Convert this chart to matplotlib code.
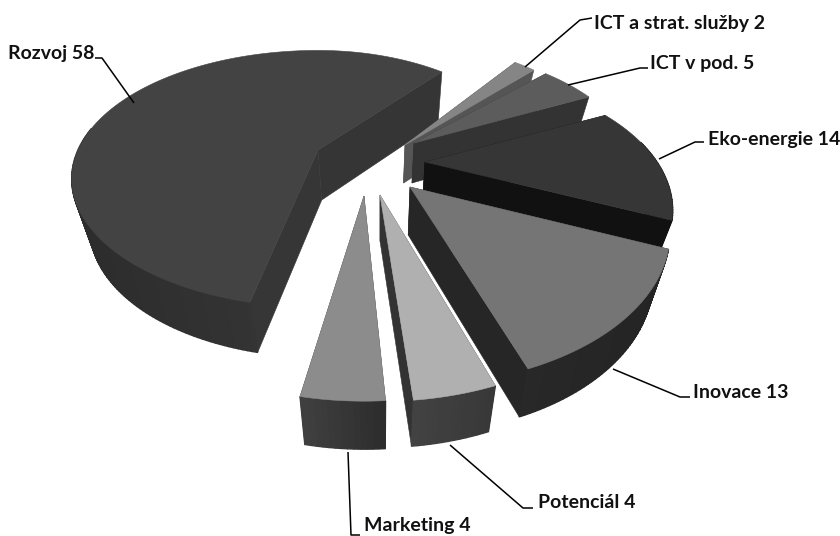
import numpy as np
import matplotlib
matplotlib.use("Agg")
import matplotlib.pyplot as plt
from matplotlib.patches import Polygon

# Data, in clockwise drawing order
categories = ["ICT a strat. služby", "ICT v pod.", "Eko-energie", "Inovace", "Potenciál", "Marketing", "Rozvoj"]
values = [2, 5, 14, 13, 4, 4, 58]

START = 39.6
# Per-slice perspective geometry: apex x, y, Rx, Ry, perspective, rotation, height
geom = {
    "ICT a strat. služby": (405, 145, 213, 132, .30, 0, 38),
    "ICT v pod.": (414, 143, 218, 122, .30, 0, 40),
    "Eko-energie": (425, 162, 232, 122, .35, -1, 44),
    "Inovace": (410, 187, 248, 139, .30, -2, 48),
    "Potenciál": (380, 195, 266, 160, .225, -2, 46),
    "Marketing": (364, 196, 266, 159, .225, 0, 48),
    "Rozvoj": (318, 150, 240, 122, .225, 2, 50),
}
# Horizontal radius on the right of the apex, where it differs from Rx
rx_right = {"Rozvoj": 218}
# top, radial start, radial end, outer-left, outer-right
colors = {
    "ICT a strat. služby": ("#858585", "#555555", "#555555", "#555555", "#555555"),
    "ICT v pod.": ("#5c5c5c", "#333333", "#333333", "#333333", "#333333"),
    "Eko-energie": ("#363636", "#111111", "#111111", "#111111", "#111111"),
    "Inovace": ("#757575", "#262626", "#262626", "#282828", "#242424"),
    "Potenciál": ("#b0b0b0", "#333333", "#333333", "#424242", "#383838"),
    "Marketing": ("#8c8c8c", "#333333", "#333333", "#404040", "#2c2c2c"),
    "Rozvoj": ("#434343", "#363636", "#353535", "#2c2c2c", "#3c3c3c"),
}
labels = [
    ("ICT a strat. služby 2", 594, 23, [(525, 67), (580, 20), (592, 18)]),
    ("ICT v pod. 5", 650, 63, [(568, 85), (640, 68), (648, 68)]),
    ("Eko-energie 14", 708, 139, [(659, 159), (695, 142), (704, 142)]),
    ("Inovace 13", 693, 393, [(613, 369), (680, 397), (690, 397)]),
    ("Potenciál 4", 538, 502, [(450, 445), (523, 508), (533, 508)]),
    ("Marketing 4", 364, 525, [(348, 452), (351, 535), (360, 535)]),
    ("Rozvoj 58", 8, 53, [(134, 103), (102, 58), (95, 58)]),
]
VPX, K = 380, 0.94

fig = plt.figure(figsize=(8.4, 5.36), dpi=100)
ax = fig.add_axes([0, 0, 1, 1])
ax.set_xlim(0, 840)
ax.set_ylim(536, 0)
ax.axis("off")


def top_pts(name, th):
    x0, y0, rx, ry, p, rot, h = geom[name]
    t = np.radians(np.asarray(th) + rot)
    u, v = np.sin(t), np.cos(t)
    s = 1 / (1 + p * v)
    radius = np.where(u > 0, rx_right.get(name, rx), rx)
    return np.column_stack([x0 + radius * u * s, y0 - ry * v * s])


def drop(pts, h):
    pts = np.atleast_2d(pts)
    return np.column_stack([VPX + (pts[:, 0] - VPX) * K, pts[:, 1] + h])


def poly(pts, c, z, lw=0.4):
    ax.add_patch(Polygon(pts, closed=True, fc=c, ec=c, lw=lw, zorder=z))


def lerp(a, b, f):
    a = np.array(matplotlib.colors.to_rgb(a))
    b = np.array(matplotlib.colors.to_rgb(b))
    return a + (b - a) * f


cum = START
for i, (name, val) in enumerate(zip(categories, values)):
    a0, a1 = cum, cum + val * 3.6
    cum = a1
    g = geom[name]
    ctop, c0, c1, cl, cr = colors[name]
    h = g[6]
    z = 10 + i * 5
    if name == "Rozvoj":
        z = 2
    th = np.linspace(a0, a1, max(6, int(val * 3.6)))
    arc = top_pts(name, th)
    apex = np.array([[g[0], g[1]]])
    # radial faces
    for end, col in ((arc[0], c0), (arc[-1], c1)):
        e = end[None, :]
        poly(np.vstack([apex, e, drop(e, h), drop(apex, h)]), col, z)
    # outer wall as facets, only those turned towards the viewer
    low = drop(arc, h)
    xs = arc[:, 0]
    for j in range(len(arc) - 1):
        if np.cos(np.radians(0.5 * (th[j] + th[j + 1]))) > 0.15:
            continue
        f = (0.5 * (xs[j] + xs[j + 1]) - xs.min()) / max(xs.max() - xs.min(), 1)
        col = lerp(cl, cr, f)
        poly(np.vstack([arc[j], arc[j + 1], low[j + 1], low[j]]), col, z + 1, lw=1.0)
    poly(np.vstack([apex, arc]), ctop, z + 2)

for text, x, y, line in labels:
    ax.text(x, y, text, fontsize=14, family="Lato", fontweight="bold", color="#111111",
            ha="left", va="center", zorder=60, clip_on=False)
    xs, ys = zip(*line)
    ax.plot(xs, ys, color="black", lw=1.1, zorder=59, solid_capstyle="butt")

fig.savefig("out.png", dpi=100)
